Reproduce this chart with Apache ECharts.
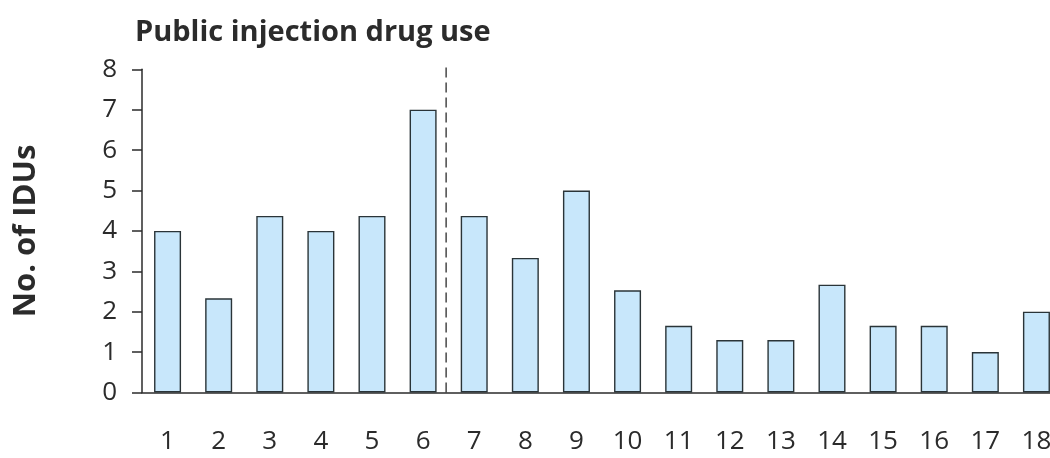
<!DOCTYPE html>
<html>
<head>
<meta charset="utf-8">
<script src="https://cdn.jsdelivr.net/npm/echarts@6/dist/echarts.min.js"></script>
<style>
html,body{margin:0;padding:0;background:#fff;}
#chart{width:1050px;height:458px;}
</style>
</head>
<body>
<div id="chart"></div>
<script>
// ---- data ----
var titleText = 'Public injection drug use';
var yAxisTitle = 'No. of IDUs';
var categories = ['1','2','3','4','5','6','7','8','9','10','11','12','13','14','15','16','17','18'];
var idus = [4, 2.33, 4.37, 4, 4.37, 7, 4.37, 3.33, 5, 2.53, 1.65, 1.3, 1.3, 2.67, 1.65, 1.65, 1, 2];
var yTicks = [0, 1, 2, 3, 4, 5, 6, 7, 8];
var dividerX = 5.95;        // position of dashed divider, in category units
var dividerY = [0, 8.1];    // vertical extent of divider

var FONT = '"Open Sans", "DejaVu Sans", sans-serif';
var INK = '#2b2b2b';

var chart = echarts.init(document.getElementById('chart'), null, {renderer: 'canvas'});
chart.setOption({
  animation: false,
  backgroundColor: '#ffffff',
  title: {
    text: titleText,
    left: 130,
    top: 13,
    textStyle: {fontFamily: FONT, fontWeight: 'bold', fontSize: 29, color: INK}
  },
  grid: {left: 142, width: 920, top: 69.3, height: 323.2, containLabel: false, outerBoundsMode: 'none'},
  xAxis: [{
    type: 'category',
    data: categories,
    boundaryGap: true,
    axisLine: {show: true, lineStyle: {color: INK, width: 1.5}},
    axisTick: {show: false},
    axisLabel: {color: INK, fontFamily: FONT, fontSize: 26, margin: 36}
  }, {
    type: 'value',
    min: 0,
    max: categories.length,
    show: false
  }],
  yAxis: {
    type: 'value',
    min: yTicks[0],
    max: yTicks[yTicks.length - 1],
    interval: 1,
    name: yAxisTitle,
    nameLocation: 'middle',
    nameGap: 100,
    nameRotate: 90,
    nameTextStyle: {fontFamily: FONT, fontWeight: 'bold', fontSize: 31, color: INK},
    splitLine: {show: false},
    axisLine: {show: true, lineStyle: {color: INK, width: 1.5}},
    axisTick: {show: true, inside: false, length: 10, lineStyle: {color: INK, width: 1.5}},
    axisLabel: {color: INK, fontFamily: FONT, fontSize: 26, margin: 25}
  },
  series: [{
    type: 'bar',
    data: idus,
    xAxisIndex: 0,
    barWidth: 27,
    itemStyle: {color: '#c8e7fb', borderColor: '#2a3438', borderWidth: 1.4}
  }, {
    type: 'line',
    xAxisIndex: 1,
    clip: false,
    symbol: 'none',
    data: [[dividerX, dividerY[0]], [dividerX, dividerY[1]]],
    lineStyle: {color: INK, width: 1.3, type: [10, 5]},
    z: 5
  }]
});
</script>
</body>
</html>
